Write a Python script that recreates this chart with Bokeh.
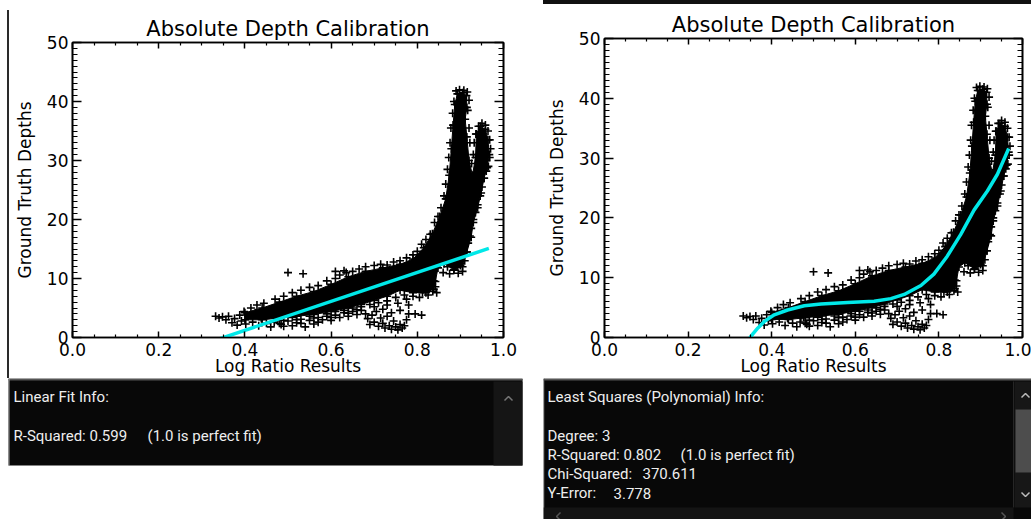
from bokeh.plotting import figure
from bokeh.models import LinearAxis, FixedTicker, Range1d, Div, Spacer, PrintfTickFormatter
from bokeh.layouts import row, column
from bokeh.core.properties import value
from bokeh.embed import file_html
from bokeh.resources import INLINE

# ---------------- data ----------------
title_text = "Absolute Depth Calibration"
x_label = "Log Ratio Results"
y_label = "Ground Truth Depths"

x_ticks = [0.0, 0.2, 0.4, 0.6, 0.8, 1.0]
x_tick_labels = ["0.0", "0.2", "0.4", "0.6", "0.8", "1.0"]
x_minor = [0.05, 0.1, 0.15, 0.25, 0.3, 0.35, 0.45, 0.5, 0.55,
           0.65, 0.7, 0.75, 0.85, 0.9, 0.95]
y_ticks = [0, 10, 20, 30, 40, 50]
y_tick_labels = ["0", "10", "20", "30", "40", "50"]
y_minor = list(range(0, 51))

# outline of the dense (solid black) part of the point cloud
cloud_x = [0.40, 0.44, 0.48, 0.52, 0.56, 0.60, 0.64, 0.68, 0.72, 0.76,
           0.79, 0.815, 0.835, 0.852, 0.866, 0.874, 0.879, 0.883, 0.887, 0.893,
           0.905, 0.914, 0.915, 0.911, 0.915, 0.920, 0.928, 0.935, 0.937, 0.946,
           0.958, 0.964, 0.967, 0.962, 0.955, 0.948, 0.940, 0.930, 0.925, 0.915,
           0.905, 0.885, 0.862, 0.848, 0.842, 0.838, 0.820, 0.790, 0.760, 0.730,
           0.700, 0.670, 0.640, 0.600, 0.560, 0.520, 0.480, 0.440, 0.400]
cloud_y = [4.2, 5.0, 6.0, 7.0, 7.8, 9.0, 10.3, 11.2, 11.8, 12.4,
           13.3, 15.2, 17.6, 20.5, 23.5, 27.5, 32.0, 36.0, 39.5, 41.3,
           41.5, 41.0, 39.0, 37.0, 34.0, 30.0, 27.5, 30.5, 34.5, 35.8,
           35.3, 33.5, 31.0, 28.8, 27.0, 24.5, 22.0, 19.5, 17.0, 14.5,
           12.0, 11.5, 12.5, 11.8, 9.5, 8.2, 7.6, 7.6, 8.0, 7.0,
           6.3, 5.6, 5.0, 4.4, 3.9, 3.6, 3.3, 3.0, 3.0]

# individual '+' points around the dense part
left_group = [(0.332, 3.6), (0.340, 3.3), (0.348, 3.5), (0.356, 3.0), (0.362, 3.6),
              (0.370, 2.5), (0.376, 3.2), (0.382, 2.1), (0.388, 3.8), (0.392, 2.8),
              (0.398, 4.4), (0.402, 2.3), (0.408, 3.6), (0.414, 5.0), (0.418, 2.6),
              (0.424, 4.2), (0.428, 5.5), (0.432, 2.0), (0.438, 3.2), (0.444, 5.8),
              (0.450, 2.4), (0.456, 4.0), (0.460, 1.8)]
lower_fringe = [(0.468, 2.6), (0.476, 3.4), (0.484, 2.2), (0.490, 1.9), (0.500, 2.8),
                (0.510, 2.0), (0.520, 3.0), (0.530, 2.4), (0.540, 1.8), (0.550, 2.9),
                (0.560, 3.3), (0.570, 2.6), (0.580, 3.0), (0.590, 3.6), (0.600, 2.9),
                (0.610, 3.8), (0.620, 3.4), (0.630, 4.2), (0.640, 3.6), (0.650, 4.4),
                (0.660, 3.9), (0.670, 4.6), (0.680, 4.0)]
inner_lower = [(0.47, 3.3), (0.49, 2.9), (0.51, 3.4), (0.53, 3.1), (0.55, 3.6),
               (0.57, 3.4), (0.59, 4.0), (0.61, 4.4), (0.63, 4.6), (0.65, 5.0),
               (0.67, 5.2), (0.69, 5.6), (0.71, 5.9), (0.73, 6.2), (0.75, 6.8),
               (0.77, 7.2), (0.48, 2.4), (0.52, 2.5), (0.56, 2.3), (0.60, 3.4),
               (0.64, 4.1), (0.66, 4.7)]
upper_fringe = [(0.47, 6.5), (0.49, 7.0), (0.51, 7.6), (0.53, 8.0), (0.55, 8.5),
                (0.57, 8.8), (0.59, 9.6), (0.61, 10.0), (0.62, 10.6), (0.635, 11.0),
                (0.65, 11.2), (0.665, 11.6), (0.68, 12.0), (0.70, 12.2), (0.715, 12.4),
                (0.73, 12.3), (0.745, 12.8), (0.76, 13.0), (0.775, 13.5), (0.79, 14.0),
                (0.80, 14.6), (0.81, 15.8), (0.82, 16.6), (0.83, 17.5), (0.84, 19.5),
                (0.848, 20.5), (0.855, 22.0), (0.862, 24.0), (0.866, 26.0), (0.87, 28.5),
                (0.873, 30.5), (0.876, 33.0), (0.878, 35.5), (0.882, 38.0), (0.885, 40.0),
                (0.89, 41.8), (0.898, 42.0), (0.908, 41.9), (0.916, 41.6), (0.92, 40.2),
                (0.917, 38.5)]
outliers = [(0.50, 11.0), (0.535, 10.8), (0.61, 11.2), (0.63, 11.3)]
lower_lobe = [(0.685, 3.2), (0.69, 2.2), (0.695, 3.8), (0.70, 2.6), (0.705, 4.4),
              (0.71, 1.9), (0.715, 3.3), (0.72, 2.4), (0.725, 1.6), (0.73, 3.6),
              (0.735, 2.0), (0.74, 1.4), (0.745, 2.8), (0.75, 1.8), (0.755, 1.3),
              (0.76, 2.2), (0.765, 1.6), (0.77, 2.0), (0.775, 3.0), (0.78, 4.0),
              (0.72, 4.8), (0.74, 4.2), (0.76, 4.6), (0.70, 5.2), (0.73, 5.5),
              (0.755, 5.8), (0.78, 5.5), (0.775, 6.5), (0.795, 4.0), (0.81, 3.8)]
right_lobe = [(0.79, 7.0), (0.80, 8.2), (0.805, 6.8), (0.812, 7.6), (0.82, 9.0),
              (0.825, 7.2), (0.83, 8.4), (0.836, 7.8), (0.842, 8.6), (0.845, 7.6),
              (0.838, 9.6)]
rise_fringe = [(0.86, 11.0), (0.87, 12.0), (0.875, 10.8), (0.885, 11.4), (0.895, 10.9),
               (0.90, 12.2), (0.905, 11.2), (0.91, 13.0), (0.915, 14.5), (0.918, 16.0),
               (0.922, 17.2), (0.925, 18.5), (0.93, 20.0), (0.935, 21.2), (0.94, 22.5),
               (0.946, 24.0), (0.95, 25.5), (0.955, 27.0), (0.96, 28.2), (0.965, 29.0),
               (0.968, 30.5), (0.97, 32.0), (0.968, 33.5), (0.964, 35.0), (0.958, 36.0),
               (0.95, 36.3), (0.942, 35.8), (0.936, 34.5), (0.932, 33.0), (0.93, 31.0),
               (0.926, 29.5), (0.922, 33.0), (0.92, 35.5), (0.96, 30.0), (0.955, 32.0)]

# fitted curves
linear_x = [0.330, 0.966]
linear_y = [-0.5, 15.1]
poly_x = [0.343, 0.355, 0.367, 0.383, 0.406, 0.438, 0.478, 0.518, 0.582, 0.645,
          0.685, 0.717, 0.757, 0.788, 0.820, 0.852, 0.884, 0.916, 0.940, 0.967]
poly_y = [-0.5, 0.6, 1.6, 2.7, 3.8, 4.6, 5.3, 5.6, 5.85, 6.07,
          6.5, 7.2, 8.7, 10.6, 13.6, 17.2, 21.3, 24.5, 27.3, 31.6]

left_info_text = ["Linear Fit Info:", "R-Squared: 0.599", "(1.0 is perfect fit)"]
right_info_text = ["Least Squares (Polynomial) Info:", "Degree: 3", "R-Squared: 0.802",
                   "(1.0 is perfect fit)", "Chi-Squared:", "370.611", "Y-Error:", "3.778"]

# ---------------- drawing ----------------
PLOT_FONT = "DejaVu Sans"
INFO_FONT = "Roboto"
CYAN = "#00e8e8"

groups = [left_group, lower_fringe, inner_lower, upper_fringe, outliers,
          lower_lobe, right_lobe, rise_fringe]
pts_x = [pt[0] for g in groups for pt in g] + cloud_x
pts_y = [pt[1] for g in groups for pt in g] + cloud_y


def style_axis(ax, ticks, minor, major_in, minor_in, labels):
    ax.ticker = FixedTicker(ticks=ticks, minor_ticks=minor)
    ax.major_tick_in = major_in
    ax.major_tick_out = 0
    ax.minor_tick_in = minor_in
    ax.minor_tick_out = 0
    ax.axis_line_color = "black"
    ax.axis_line_width = 1.6
    ax.major_tick_line_color = "black"
    ax.major_tick_line_width = 1.5
    ax.minor_tick_line_color = "black"
    ax.minor_tick_line_width = 1.2
    ax.major_label_overrides = dict(zip(ticks, labels))
    ax.major_label_text_font = PLOT_FONT
    ax.major_label_text_font_size = "17px"
    ax.major_label_text_color = "black"


def make_plot(width, height, mb_left, mb_right, mb_top, fit_x, fit_y):
    p = figure(width=width, height=height, x_range=Range1d(0, 1), y_range=Range1d(0, 50),
               output_backend="svg", toolbar_location=None, title=title_text,
               min_border_left=mb_left, min_border_right=mb_right,
               min_border_top=mb_top, min_border_bottom=35)
    p.grid.visible = False
    p.outline_line_color = "black"
    p.outline_line_width = 1.6
    p.background_fill_color = "white"
    p.border_fill_color = "white"

    p.title.align = "center"
    p.title.text_font = PLOT_FONT
    p.title.text_font_size = "21px"
    p.title.text_font_style = "normal"
    p.title.text_color = "black"
    p.title.standoff = 3

    xa = p.xaxis[0]
    style_axis(xa, x_ticks, x_minor, 6, 3, x_tick_labels)
    xa.formatter = PrintfTickFormatter(format="%.1f")
    xa.major_label_standoff = 5
    xa.axis_label = x_label
    xa.axis_label_text_font = PLOT_FONT
    xa.axis_label_text_font_size = "17px"
    xa.axis_label_text_font_style = "normal"
    xa.axis_label_text_color = "black"
    xa.axis_label_standoff = -3

    ya = p.yaxis[0]
    style_axis(ya, y_ticks, y_minor, 9, 5, y_tick_labels)
    ya.major_label_standoff = 4
    ya.axis_label = y_label
    ya.axis_label_text_font = PLOT_FONT
    ya.axis_label_text_font_size = "17px"
    ya.axis_label_text_font_style = "normal"
    ya.axis_label_text_color = "black"
    ya.axis_label_standoff = 9

    top = LinearAxis(major_label_standoff=0)
    style_axis(top, x_ticks, x_minor, 6, 3, [""] * len(x_ticks))
    p.add_layout(top, "above")
    right = LinearAxis(major_label_standoff=0)
    style_axis(right, y_ticks, y_minor, 9, 5, [""] * len(y_ticks))
    p.add_layout(right, "right")

    p.patch(cloud_x, cloud_y, fill_color="black", line_color="black", line_width=1)
    p.scatter(pts_x, pts_y, marker="cross", size=8, line_color="black", line_width=1.6)
    p.line(fit_x, fit_y, line_color=CYAN, line_width=3.5)
    return p


def info_fig(width):
    f = figure(width=width, height=141, x_range=Range1d(0, width), y_range=Range1d(141, 0),
               output_backend="svg", toolbar_location=None, min_border=0,
               x_axis_location=None, y_axis_location=None)
    f.grid.visible = False
    f.outline_line_color = None
    f.background_fill_color = "white"
    f.border_fill_color = "white"
    return f


def add_text(f, texts, xs, rows):
    ys = [18.6 + 19.2 * r for r in rows]
    f.text(x=xs, y=ys, text=texts, text_font=value(INFO_FONT),
           text_font_size="15px", text_color="#eeeeee", text_baseline="middle",
           text_align="left")


p_left = make_plot(534, 378, 63, 40, 42, linear_x, linear_y)
p_right = make_plot(488, 374, 60, 9, 34, poly_x, poly_y)

left_gap = Spacer(width=7, height=378, margin=0)
edge = Div(width=2, height=368, margin=(10, 0, 0, 0), styles={"background-color": "#2a2a2a"})
top_bar = Div(width=488, height=4, margin=0, styles={"background-color": "#111111"})

# left info box
fl = info_fig(543)
fl.quad(left=[8], right=[522], top=[0], bottom=[87], fill_color="#080808", line_color=None)
fl.quad(left=[493], right=[522], top=[3], bottom=[87], fill_color="#151515", line_color=None)
fl.line([8, 522], [1, 1], line_color="#555555", line_width=2)
fl.line([8.5, 8.5], [0, 87], line_color="#999999", line_width=1)
fl.line([504, 508, 512], [22, 18, 22], line_color="#777777", line_width=1.5)
add_text(fl, left_info_text, [13, 13, 147], [0, 2, 2])

# right info box
fr = info_fig(488)
fr.quad(left=[0], right=[488], top=[0], bottom=[141], fill_color="#080808", line_color=None)
fr.line([0, 488], [1, 1], line_color="#555555", line_width=2)
fr.line([0.5, 0.5], [0, 141], line_color="#444444", line_width=1)
fr.quad(left=[471], right=[488], top=[3], bottom=[129], fill_color="#171717", line_color=None)
fr.quad(left=[472], right=[488], top=[31], bottom=[94], fill_color="#4d4d4d", line_color=None)
fr.line([470, 470], [3, 129], line_color="#262626", line_width=1)
fr.quad(left=[0], right=[470], top=[129], bottom=[141], fill_color="#141414", line_color=None)
fr.line([478, 482, 486], [19, 15, 19], line_color="#bbbbbb", line_width=1.5)
fr.line([478, 482, 486], [114, 118, 114], line_color="#bbbbbb", line_width=1.5)
fr.line([17, 13, 17], [134, 138, 142], line_color="#555555", line_width=1.5)
fr.line([458, 462, 458], [134, 138, 142], line_color="#555555", line_width=1.5)
add_text(fr, right_info_text, [4, 4, 4, 137, 4, 99, 4, 70], [0, 2, 3, 3, 4, 4, 5, 5])

layout = column(row(left_gap, edge, p_left, column(top_bar, p_right)), row(fl, fr))

open("out.html", "w").write(file_html(layout, INLINE))
